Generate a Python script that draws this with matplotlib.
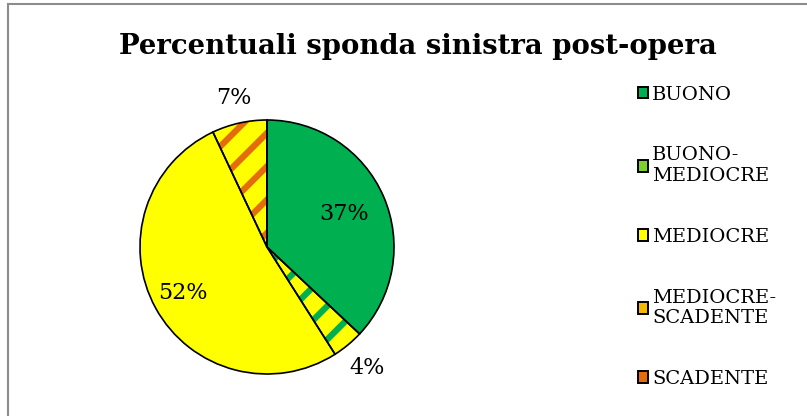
import matplotlib
matplotlib.use("Agg")
import matplotlib.pyplot as plt
from matplotlib.patches import Patch
from matplotlib.lines import Line2D
import numpy as np

categories = ["BUONO", "BUONO-\nMEDIOCRE", "MEDIOCRE", "MEDIOCRE-\nSCADENTE", "SCADENTE"]
values = [37, 4, 52, 7, 0]
base_colors = ["#00B050", "#FFFF00", "#FFFF00", "#FFFF00", "#E46C0A"]
stripe_colors = [None, "#00B050", None, "#E46C0A", None]
legend_colors = ["#00B050", "#7FD028", "#FFFF00", "#F5B800", "#E46C0A"]
label_dist = [0.66, 1.24, 0.76, 1.2, None]

plt.rcParams["font.family"] = "DejaVu Serif"
plt.rcParams["hatch.linewidth"] = 4.5

fig = plt.figure(figsize=(8.07, 4.16), dpi=100)
ax = fig.add_axes([140 / 807, (416 - 374) / 416, 254 / 807, 254 / 416])

# base fills
wedges, _ = ax.pie(values, colors=base_colors, startangle=90, counterclock=False,
                   wedgeprops=dict(linewidth=0))
# stripes
for w, sc in zip(wedges, stripe_colors):
    w.set_clip_on(False)
    if sc:
        w.set_edgecolor(sc)
        w.set_hatch("/")
# outlines
outline, _ = ax.pie(values, colors=["none"] * len(values), startangle=90, counterclock=False,
                    wedgeprops=dict(linewidth=1.2, edgecolor="black", facecolor="none"))
for w in outline:
    w.set_clip_on(False)
ax.set_xlim(-1, 1)
ax.set_ylim(-1, 1)

for w, v, d in zip(wedges, values, label_dist):
    if not v:
        continue
    ang = np.deg2rad((w.theta1 + w.theta2) / 2)
    ax.text(d * np.cos(ang), d * np.sin(ang), f"{v}%", ha="center", va="center",
            fontsize=16)

handles = [Patch(facecolor=c, edgecolor="black", linewidth=1.4) for c in legend_colors]
fig.legend(handles, categories, loc="upper left", bbox_to_anchor=(620 / 807, 1 - 68 / 416),
           frameon=False, fontsize=14, handlelength=0.55, handleheight=0.55,
           handletextpad=0.2, labelspacing=2.2)

fig.text(418 / 807, 1 - 47 / 416, "Percentuali sponda sinistra post-opera",
         ha="center", va="center", fontsize=19.8, fontweight="bold")

fig.add_artist(Line2D([8 / 807, 8 / 807], [0, 1 - 4 / 416], color="#8c8c8c", linewidth=1.5))
fig.add_artist(Line2D([8 / 807, 1], [1 - 4 / 416, 1 - 4 / 416], color="#8c8c8c", linewidth=1.5))

fig.savefig("out.png", dpi=100)
